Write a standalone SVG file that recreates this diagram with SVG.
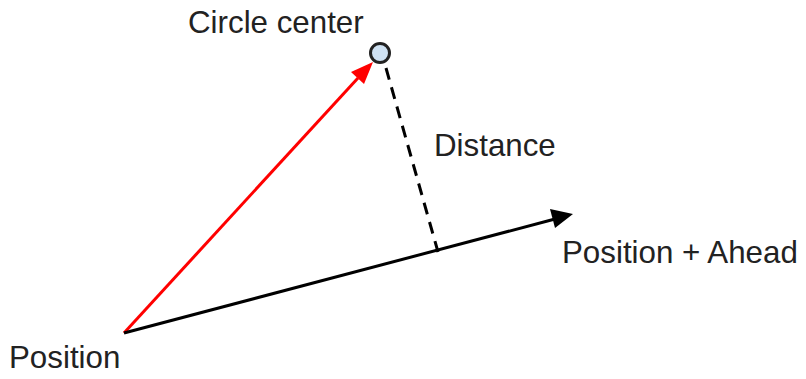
<svg xmlns="http://www.w3.org/2000/svg" width="806" height="379" viewBox="0 0 806 379">
<style>
text{font-family:"Liberation Sans",Arial,sans-serif;font-size:31.3px;fill:#222}
</style>
<rect width="806" height="379" fill="#fff"/>
<g id="connectors">
<line x1="124" y1="333" x2="358" y2="78" stroke="#ff0000" stroke-width="3"/>
<path d="M373,62 L351,72 L364,84 z" fill="#ff0000"/>
<line x1="124" y1="333" x2="555" y2="219" stroke="#000" stroke-width="3"/>
<path d="M573,214 L550,209 L555,228 z" fill="#000"/>
<line x1="386" y1="68" x2="438" y2="252" stroke="#000" stroke-width="3" stroke-dasharray="12,8"/>
</g>
<g id="circle-center">
<circle cx="380" cy="53" r="9.5" fill="#cfe2f3" stroke="#222" stroke-width="3"/>
<text x="188" y="33">Circle center</text>
</g>
<g id="distance"><text x="434" y="156">Distance</text></g>
<g id="ahead"><text x="562" y="263">Position + Ahead</text></g>
<g id="position"><text x="9" y="368">Position</text></g>
</svg>
